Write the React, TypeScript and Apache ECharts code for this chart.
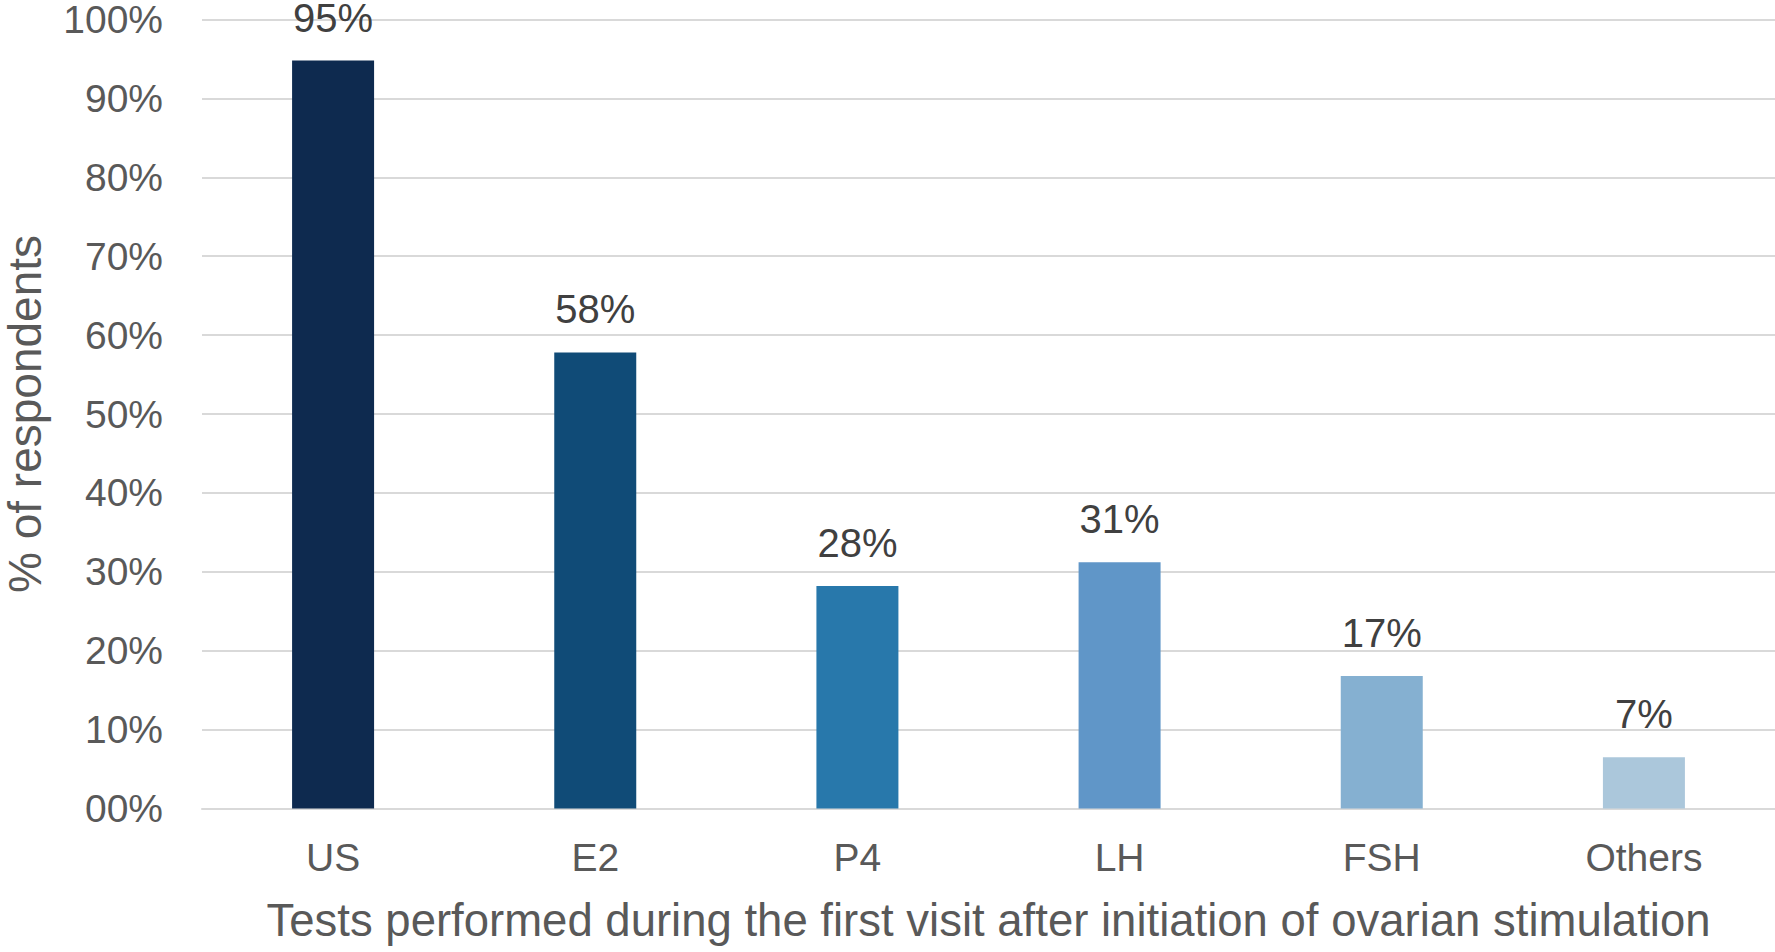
import React, { useEffect, useRef } from "react";
import * as echarts from "echarts";

const categories = ["US", "E2", "P4", "LH", "FSH", "Others"];
const values = [94.8, 57.8, 28.2, 31.2, 16.8, 6.5];
const barColors = ["#0e2a4f", "#104b77", "#2878ab", "#6096c8", "#85b0d1", "#abc7db"];
const yTicks = [0, 10, 20, 30, 40, 50, 60, 70, 80, 90, 100];
const yAxisTitle = "% of respondents";
const xAxisTitle = "Tests performed during the first visit after initiation of ovarian stimulation";

const FONT = "'Liberation Sans', Arial, sans-serif";

export default function App() {
  const ref = useRef<HTMLDivElement>(null);
  useEffect(() => {
    document.body.style.margin = "0";
    if (!ref.current) return;
    const chart = echarts.init(ref.current, undefined, { renderer: "svg" });
    chart.setOption({
      animation: false,
      backgroundColor: "#ffffff",
      grid: {
        left: 202,
        right: 0,
        top: 19.5,
        bottom: 143.5,
        containLabel: false,
        outerBoundsMode: "none",
      },
      xAxis: {
        type: "category",
        data: categories,
        name: xAxisTitle,
        nameLocation: "middle",
        nameGap: 89,
        nameTextStyle: { fontFamily: FONT, fontSize: 45.5, color: "#595959" },
        axisLine: { show: true, lineStyle: { color: "#d9d9d9", width: 2 } },
        axisTick: { show: false },
        axisLabel: { margin: 29, fontFamily: FONT, fontSize: 39, color: "#595959" },
      },
      yAxis: {
        type: "value",
        min: yTicks[0],
        max: yTicks[yTicks.length - 1],
        interval: yTicks[1] - yTicks[0],
        name: yAxisTitle,
        nameLocation: "middle",
        nameGap: 154,
        nameTextStyle: { fontFamily: FONT, fontSize: 46, color: "#595959" },
        axisLine: { show: false },
        axisTick: { show: false },
        splitLine: { show: true, lineStyle: { color: "#d9d9d9", width: 2 } },
        axisLabel: {
          margin: 39,
          fontFamily: FONT,
          fontSize: 39,
          lineHeight: 34,
          color: "#595959",
          formatter: (v: number) => (v === 0 ? "00%" : v + "%"),
        },
      },
      series: [
        {
          type: "bar",
          barWidth: 82,
          data: values.map((v, i) => ({ value: v, itemStyle: { color: barColors[i] } })),
          label: {
            show: true,
            position: "top",
            distance: 26,
            fontFamily: FONT,
            fontSize: 40,
            lineHeight: 34,
            color: "#404040",
            formatter: (p: any) => Math.round(p.value) + "%",
          },
        },
      ],
    });
    return () => chart.dispose();
  }, []);
  return <div ref={ref} style={{ width: 1775, height: 952 }} />;
}
